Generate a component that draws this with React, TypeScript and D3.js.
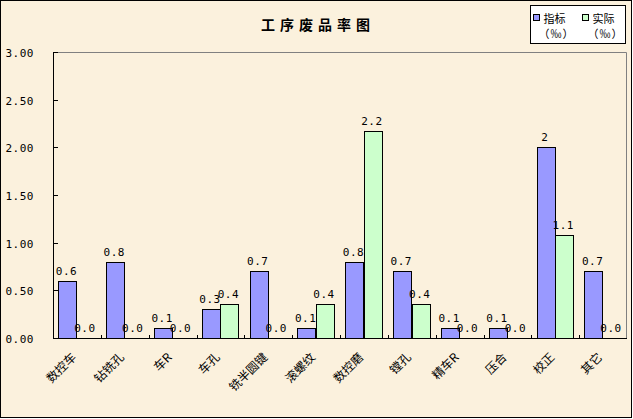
import { useEffect, useRef } from 'react';
import * as d3 from 'd3';

const categories = ['数控车', '钻铣孔', '车R', '车孔', '铣半圆键', '滚螺纹', '数控磨', '镗孔', '精车R', '压合', '校正', '其它'];
const targetValues = [0.6, 0.8, 0.1, 0.3, 0.7, 0.1, 0.8, 0.7, 0.1, 0.1, 2.0, 0.7];
const actualValues = [0, 0, 0, 0.36, 0, 0.36, 2.17, 0.36, 0, 0, 1.08, 0];
const targetLabels = ['0.6', '0.8', '0.1', '0.3', '0.7', '0.1', '0.8', '0.7', '0.1', '0.1', '2', '0.7'];
const actualLabels = ['0.0', '0.0', '0.0', '0.4', '0.0', '0.4', '2.2', '0.4', '0.0', '0.0', '1.1', '0.0'];
const yTicks = [0, 0.5, 1, 1.5, 2, 2.5, 3];
const seriesNames = ['指标', '实际'];
const unitLabel = '（‰）';

const COLORS = ['#9999ff', '#ccffcc'];
const BG = '#fbf1dd';
const CJK = '"Noto Sans CJK SC", sans-serif';
const MONO = '"DejaVu Sans Mono", monospace';

export default function App() {
  const svgRef = useRef<SVGSVGElement>(null);

  useEffect(() => {
    if (!svgRef.current) return;
    const width = 633;
    const height = 419;
    const margin = { top: 52, right: 6, bottom: 81, left: 53 };
    const innerWidth = width - margin.left - margin.right;
    const innerHeight = height - margin.top - margin.bottom;

    const svg = d3.select(svgRef.current);
    svg.selectAll('*').remove();
    svg.attr('width', width).attr('height', height).attr('viewBox', `0 0 ${width} ${height}`);

    svg.append('rect')
      .attr('x', 0.5).attr('y', 0.5)
      .attr('width', width - 2).attr('height', height - 2)
      .attr('fill', BG).attr('stroke', '#000');

    svg.append('text')
      .attr('x', 318).attr('y', 30)
      .attr('text-anchor', 'middle')
      .attr('font-family', CJK).attr('font-size', 14).attr('font-weight', 'bold')
      .attr('letter-spacing', 5)
      .text('工序废品率图');

    const xScale = d3.scaleBand().domain(categories).range([0, innerWidth]);
    const subScale = d3.scaleBand()
      .domain(['target', 'actual'])
      .range([xScale.bandwidth() * 0.11, xScale.bandwidth() * 0.88]);
    const yScale = d3.scaleLinear().domain([0, 3]).range([innerHeight, 0]);

    const g = svg.append('g').attr('transform', `translate(${margin.left},${margin.top})`);

    // plot frame (top and right in grey)
    g.append('path')
      .attr('d', `M0,0.5H${innerWidth - 0.5}V${innerHeight}`)
      .attr('fill', 'none').attr('stroke', '#808080');

    categories.forEach((c, i) => {
      const x0 = xScale(c) ?? 0;
      const vals = [targetValues[i], actualValues[i]];
      const labels = [targetLabels[i], actualLabels[i]];
      (['target', 'actual'] as const).forEach((k, j) => {
        const bx = x0 + (subScale(k) ?? 0);
        const y = yScale(vals[j]);
        if (vals[j] > 0) {
          g.append('rect')
            .attr('x', Math.round(bx) + 0.5)
            .attr('y', Math.round(y) + 0.5)
            .attr('width', Math.round(subScale.bandwidth()))
            .attr('height', Math.round(innerHeight - y))
            .attr('fill', COLORS[j]).attr('stroke', '#000');
        }
        g.append('text')
          .attr('x', bx + subScale.bandwidth() / 2 - 1)
          .attr('y', y - 6)
          .attr('text-anchor', 'middle')
          .attr('font-family', MONO).attr('font-size', 11)
          .attr('letter-spacing', 0.5)
          .text(labels[j]);
      });
    });

    // y axis
    g.append('line')
      .attr('x1', 0.5).attr('x2', 0.5).attr('y1', 0).attr('y2', innerHeight)
      .attr('stroke', '#000');
    yTicks.forEach((t) => {
      const y = Math.round(yScale(t)) + 0.5;
      g.append('line').attr('x1', 0).attr('x2', 5).attr('y1', y).attr('y2', y).attr('stroke', '#000');
      g.append('text')
        .attr('x', -19).attr('y', y + 4)
        .attr('text-anchor', 'end')
        .attr('font-family', MONO).attr('font-size', 11)
        .attr('letter-spacing', 0.5)
        .text(d3.format('.2f')(t));
    });

    // x axis
    g.append('line')
      .attr('x1', 0).attr('x2', innerWidth).attr('y1', innerHeight + 0.5).attr('y2', innerHeight + 0.5)
      .attr('stroke', '#000');
    categories.forEach((c, i) => {
      const x0 = xScale(c) ?? 0;
      if (i > 0) {
        const tx = Math.round(x0) + 0.5;
        g.append('line').attr('x1', tx).attr('x2', tx).attr('y1', innerHeight - 3).attr('y2', innerHeight)
          .attr('stroke', '#000');
      }
      const cx = x0 + xScale.bandwidth() / 2;
      g.append('text')
        .attr('transform', `translate(${cx},${innerHeight + 20}) rotate(-45)`)
        .attr('text-anchor', 'end')
        .attr('font-family', CJK).attr('font-size', 12)
        .text(c);
    });

    // legend
    const lg = svg.append('g').attr('transform', 'translate(530.5,5.5)');
    lg.append('rect').attr('width', 95).attr('height', 38).attr('fill', '#fff').attr('stroke', '#000');
    seriesNames.forEach((name, i) => {
      const ox = 3 + i * 49;
      lg.append('rect').attr('x', ox).attr('y', 9).attr('width', 6).attr('height', 6)
        .attr('fill', COLORS[i]).attr('stroke', '#000');
      lg.append('text').attr('x', ox + 10).attr('y', 17)
        .attr('font-family', CJK).attr('font-size', 11).text(name);
      lg.append('text').attr('x', ox + 5).attr('y', 32)
        .attr('font-family', CJK).attr('font-size', 11).attr('letter-spacing', 1).text(unitLabel);
    });
  }, []);

  return (
    <div style={{ position: 'fixed', left: 0, top: 0 }}>
      <svg ref={svgRef} style={{ display: 'block' }} />
    </div>
  );
}
